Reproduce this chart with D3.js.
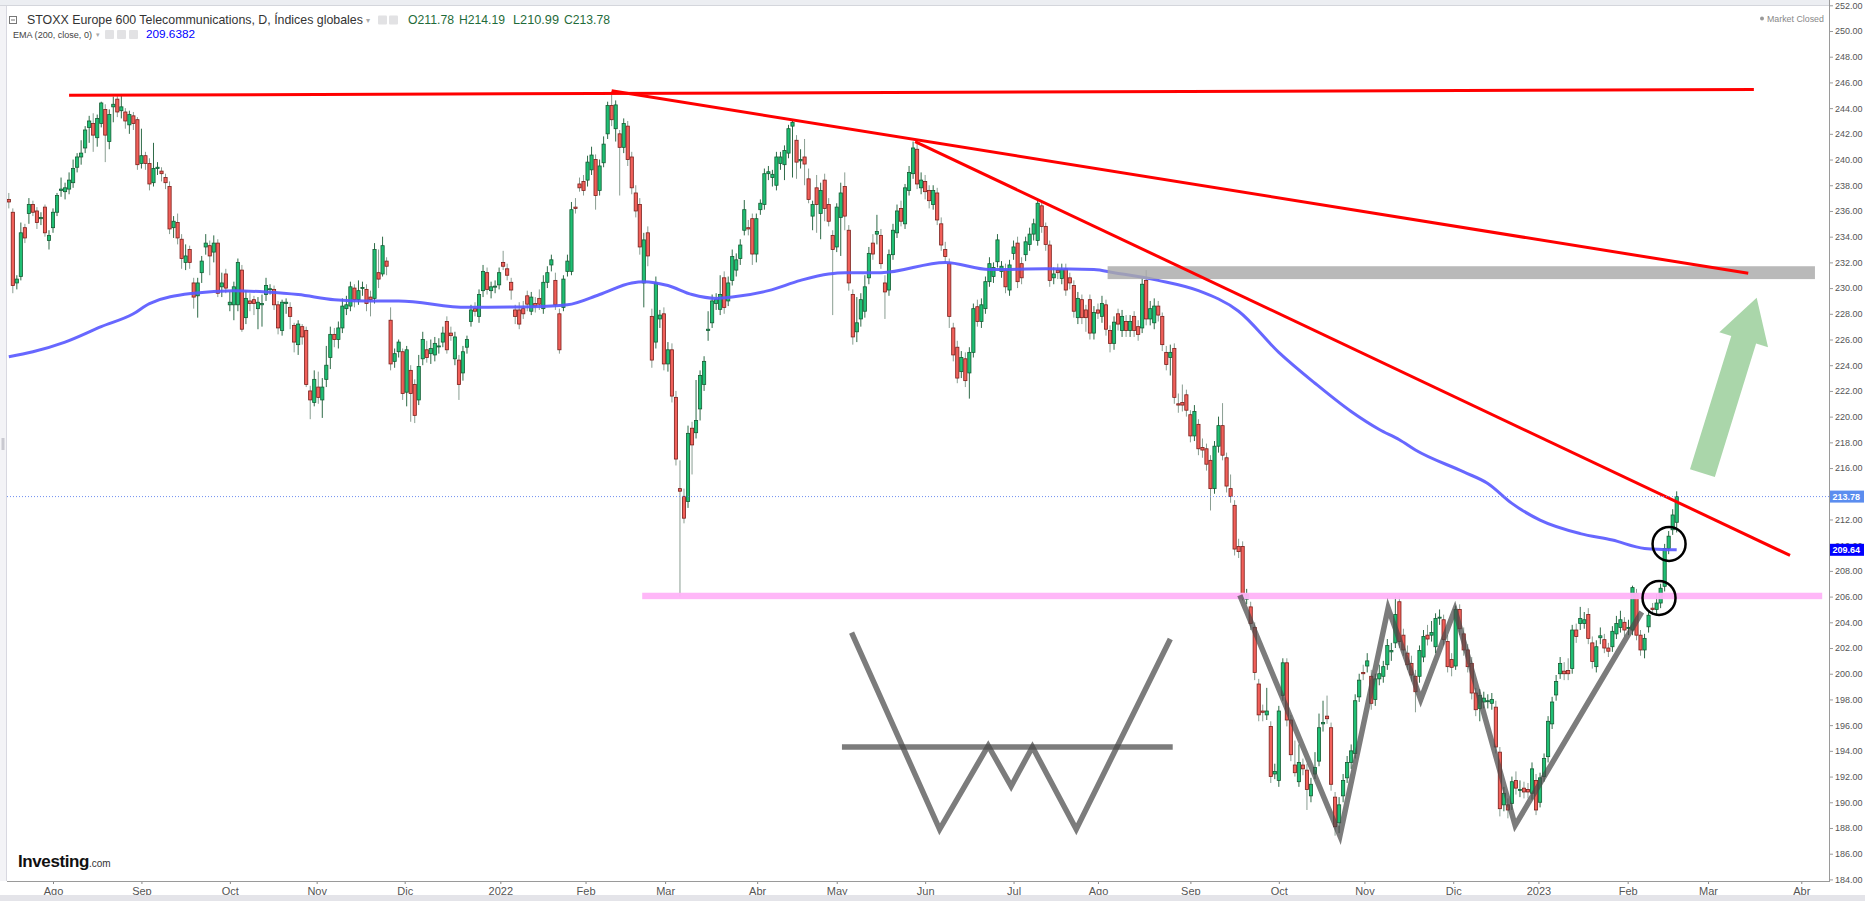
<!DOCTYPE html>
<html><head><meta charset="utf-8">
<script src="https://cdn.jsdelivr.net/npm/d3@7"></script>
<style>
html,body{margin:0;padding:0;background:#fff;overflow:hidden}
svg{display:block}
</style></head><body>
<svg id="chart" width="1865" height="901"></svg>
<script>
// ---------------- DATA ----------------
const opens = [
236.9,235.9,230.4,230.9,234.7,235.8,236.5,236.0,235.4,236.3,
233.7,234.7,235.9,237.6,237.5,237.7,238.2,239.4,240.2,240.9,
242.5,242.8,241.7,242.8,243.9,241.4,244.1,244.7,243.8,243.7,
242.7,243.4,243.1,239.7,240.3,239.7,238.2,239.3,239.1,238.6,
237.9,234.7,235.1,233.8,232.0,233.0,230.4,229.4,231.2,233.2,
233.3,232.8,233.5,230.1,231.1,228.7,228.7,228.7,231.4,227.7,
229.0,229.1,228.4,228.7,229.5,229.9,229.9,228.7,226.7,228.8,
228.5,227.1,225.6,227.0,226.7,222.0,221.1,222.3,221.3,222.9,
224.6,226.4,226.0,226.9,228.4,228.6,230.0,229.1,230.0,229.9,
229.3,229.2,231.2,231.1,232.1,227.5,224.3,225.05,225.05,221.9,
223.6,222.5,221.3,224.5,225.2,224.9,224.8,225.45,225.8,227.4,
226.5,224.5,224.4,223.4,225.4,227.4,228.4,227.8,229.8,231.2,
229.8,230.1,230.25,232.0,231.5,230.45,228.3,228.3,228.4,229.4,
228.2,228.8,229.2,228.4,230.45,231.8,230.6,228.0,228.5,231.3,
231.3,236.3,238.1,238.3,238.4,239.2,240.0,237.6,239.75,242.0,
244.2,242.4,242.0,240.95,242.6,240.2,237.4,236.5,230.4,234.3,
227.8,225.8,227.6,228.0,224.1,225.2,221.5,214.4,213.8,213.4,
219.1,218.75,220.6,222.5,226.7,227.3,228.8,228.35,230.8,229.0,
230.6,231.4,232.3,234.5,234.7,235.4,232.65,236.1,236.5,238.9,
238.6,238.0,239.7,239.6,240.5,242.6,241.5,239.9,240.2,238.5,
235.6,237.8,235.8,238.4,236.5,234.1,233.2,235.5,237.9,234.5,
229.5,226.6,227.6,228.2,230.8,233.5,234.2,234.1,230.4,229.85,
232.6,234.3,236.2,235.0,237.6,238.9,240.8,237.8,238.3,237.6,
236.5,237.4,235.0,233.0,231.9,226.9,225.4,223.5,224.5,223.4,
225.0,228.55,227.4,228.4,230.5,230.9,232.05,231.3,231.4,229.85,
232.7,233.5,231.9,232.6,233.4,234.2,233.7,236.4,234.8,233.35,
230.8,231.4,230.75,231.5,230.8,230.2,227.7,229.1,228.3,229.1,
226.5,228.3,227.8,228.7,226.7,225.7,228.0,226.7,227.4,226.7,
227.8,227.0,226.9,230.6,227.6,227.3,228.6,227.8,225.0,224.6,
225.3,221.0,221.1,221.7,220.15,218.5,219.4,217.6,217.5,216.6,
214.4,217.7,219.3,216.8,214.4,213.1,209.9,209.9,205.8,205.2,
203.6,199.2,197.1,196.8,195.9,192.2,191.7,198.3,200.85,196.4,
192.9,191.6,192.9,192.5,190.5,192.2,193.2,196.1,196.7,195.8,
190.4,188.4,190.5,191.9,193.1,193.8,198.2,200.1,200.6,199.8,
198.0,199.6,199.8,200.7,201.7,202.4,205.6,203.0,201.6,200.8,
199.8,199.8,201.3,203.0,203.0,202.1,204.35,204.2,202.5,201.1,
200.6,205.0,203.1,201.85,200.8,198.5,197.3,197.8,197.85,197.7,
197.4,193.9,189.8,189.8,189.9,191.7,190.95,191.1,191.0,190.7,
191.7,190.0,192.0,193.55,196.1,198.35,200.0,200.2,200.25,200.4,
203.4,203.9,203.9,204.6,202.4,200.55,202.8,202.65,202.0,202.1,
203.1,203.6,204.0,203.55,203.4,206.25,203.0,201.85,203.65,205.1,
205.0,205.5,206.8,209.75,211.2,211.78];
const highs = [
237.4,236.2,231.0,235.1,235.0,237.0,236.8,236.3,235.9,236.5,
234.5,236.2,237.4,238.6,238.2,239.0,240.0,240.5,241.5,242.6,
243.4,243.6,243.5,244.5,244.3,243.9,244.9,245.0,245.1,244.0,
243.8,243.7,243.3,242.4,240.6,240.1,241.3,239.8,239.4,238.9,
238.3,235.6,235.8,234.2,233.4,233.3,230.8,230.8,232.5,234.2,
233.7,234.1,233.8,231.2,231.5,229.7,230.5,232.3,231.8,229.8,
229.6,229.4,229.3,229.5,230.8,230.3,230.2,229.0,229.1,229.2,
228.9,227.3,227.5,227.2,227.0,222.4,223.6,223.5,223.0,225.5,
227.0,226.9,227.4,229.2,229.4,230.5,230.3,230.6,230.5,230.3,
229.8,233.5,233.0,234.0,232.4,228.5,225.3,226.0,225.3,225.5,
224.0,222.9,224.8,226.6,225.9,226.0,226.2,226.1,227.0,227.8,
227.0,226.6,224.8,225.5,226.3,228.7,228.9,229.9,231.8,231.6,
230.5,230.6,231.6,232.9,231.9,230.8,228.7,228.9,229.0,229.8,
229.7,229.3,229.9,231.0,231.7,232.6,231.2,228.4,231.0,232.6,
236.7,237.0,238.6,238.8,240.3,241.0,240.4,240.0,241.8,244.5,
245.3,244.6,242.3,243.2,243.0,240.6,238.0,237.0,234.3,234.8,
228.4,230.9,228.3,228.5,225.8,225.7,222.0,216.6,214.4,219.3,
219.6,222.85,223.6,224.7,228.2,229.5,229.6,231.0,231.3,230.9,
233.0,232.7,233.8,236.85,235.3,235.8,235.8,236.9,239.3,239.5,
239.2,240.6,240.6,241.1,242.7,243.0,241.9,240.8,241.6,239.3,
236.8,238.8,238.2,238.9,237.0,234.5,236.6,238.2,239.0,234.9,
229.9,229.3,229.6,231.0,233.2,234.2,235.7,234.6,231.0,233.0,
235.0,236.5,236.8,238.1,239.5,241.4,241.3,239.0,238.8,238.0,
238.0,237.8,235.5,233.6,232.3,227.3,225.9,225.1,225.0,225.4,
228.8,229.1,229.2,230.9,232.4,232.0,234.2,232.1,231.9,232.2,
233.7,234.0,232.4,234.0,234.7,235.4,236.9,236.7,235.1,233.7,
231.6,231.9,231.9,231.9,231.2,230.6,229.7,229.5,228.7,229.5,
228.6,228.8,229.4,229.1,227.1,227.8,228.4,228.3,227.9,227.9,
228.2,227.5,230.8,231.4,229.0,229.2,229.0,228.1,225.5,225.6,
225.7,221.8,222.5,222.1,220.5,220.9,219.8,218.3,217.9,217.0,
218.1,220.0,221.05,217.2,215.5,213.5,210.5,210.3,206.6,205.6,
204.0,199.6,197.6,198.9,196.3,193.0,197.5,201.2,201.2,196.8,
194.8,194.5,193.4,193.0,191.9,193.9,196.9,197.9,198.3,196.2,
190.8,190.4,192.2,193.6,194.5,198.4,200.0,200.7,201.6,200.3,
200.0,200.7,201.0,202.7,202.4,205.95,206.0,203.5,202.2,201.4,
200.3,202.2,203.4,203.8,204.1,204.7,205.0,204.6,203.0,201.6,
205.3,205.4,203.6,202.3,201.3,198.9,198.8,198.6,198.4,198.5,
197.9,194.3,191.2,190.3,192.0,192.4,191.7,191.6,191.5,193.1,
192.2,192.3,193.8,196.7,198.2,199.9,201.3,200.9,201.2,203.8,
203.9,205.2,204.8,205.1,202.9,202.6,203.6,203.1,202.4,203.7,
204.5,204.9,204.4,204.2,206.85,206.6,203.4,203.1,204.9,205.5,
206.2,207.0,210.1,211.1,212.8,214.19];
const lows = [
236.2,229.6,229.9,230.6,233.5,235.0,235.6,234.6,234.9,234.0,
233.0,234.3,235.6,237.1,236.9,237.3,237.8,239.0,239.6,240.5,
241.3,240.6,241.0,242.5,239.8,240.8,242.9,243.3,243.2,242.4,
242.0,242.3,239.2,239.3,239.2,237.6,237.9,238.8,238.3,237.7,
234.2,233.9,233.4,231.5,231.4,231.5,228.4,227.7,230.4,232.6,
231.0,232.0,229.3,229.3,229.6,228.2,227.5,228.2,226.6,227.2,
228.2,227.9,226.8,227.0,229.0,229.5,228.3,226.4,226.3,228.0,
226.8,225.0,224.8,225.6,222.3,219.8,220.8,221.0,219.9,222.3,
223.7,225.4,225.3,226.5,227.9,228.2,228.5,228.7,229.4,228.2,
227.8,228.8,230.0,230.9,231.0,223.6,223.8,224.6,221.3,220.8,
219.6,219.5,220.9,224.0,224.2,224.1,224.3,224.9,225.4,224.9,
225.9,224.0,221.3,222.8,224.9,227.0,227.8,227.3,229.3,229.5,
229.2,229.6,229.9,231.4,230.6,229.1,227.2,226.8,227.6,228.2,
227.9,228.1,228.3,228.0,230.0,231.3,228.3,224.9,228.2,230.9,
231.0,235.8,237.5,237.2,237.9,238.8,236.1,237.2,239.4,241.6,
242.6,241.4,237.2,240.5,239.5,237.3,235.5,232.6,228.5,231.7,
223.8,225.3,226.9,223.6,223.5,221.1,216.2,206.0,211.7,212.9,
215.5,218.3,219.7,222.0,225.9,226.9,228.3,227.9,228.0,228.6,
230.2,230.9,231.8,234.1,234.1,231.8,232.0,235.7,236.1,238.4,
237.9,237.6,239.2,238.4,240.1,238.6,238.5,239.3,238.0,236.6,
234.5,234.3,233.8,235.2,234.8,227.9,232.8,232.5,234.5,229.8,
225.6,225.8,227.0,227.7,230.3,232.2,233.4,231.5,227.6,229.4,
232.2,233.9,234.8,234.6,237.2,238.5,237.7,237.3,236.9,236.2,
236.1,234.9,232.9,232.0,226.9,224.3,222.6,223.0,222.3,221.4,
224.6,227.0,226.9,228.0,230.1,230.4,231.6,230.8,229.6,229.4,
232.2,230.0,230.3,232.1,232.9,233.7,233.3,234.3,232.9,230.1,
230.3,230.7,230.3,229.4,229.9,227.7,227.2,227.2,226.6,226.0,
226.0,227.6,227.3,226.3,225.0,225.2,226.7,226.2,226.2,226.2,
226.2,225.9,226.5,227.1,227.1,226.8,227.4,225.1,223.6,223.2,
221.0,220.3,220.4,220.0,218.0,218.1,217.0,216.8,215.8,212.7,
214.0,217.2,216.6,214.1,213.3,209.2,209.0,205.7,205.4,203.4,
199.5,196.3,196.3,196.4,191.5,191.8,191.2,197.9,195.9,193.2,
192.0,191.2,192.1,189.4,190.0,191.8,192.8,195.5,196.1,190.9,
187.4,187.6,190.0,191.5,192.6,193.4,197.8,199.5,200.1,197.2,
197.5,199.1,199.3,200.3,201.0,202.0,202.0,201.4,200.3,199.4,
197.0,199.3,200.9,202.2,202.5,201.6,203.8,202.2,200.1,199.8,
200.3,203.0,201.4,200.1,198.0,196.7,196.3,197.3,197.3,197.2,
193.8,188.9,189.3,188.75,189.4,190.6,190.4,190.3,190.3,190.2,
189.0,189.6,191.6,193.1,195.7,197.9,199.6,199.5,199.5,200.0,
202.4,203.4,203.5,202.3,200.4,200.1,202.3,201.6,201.3,201.7,
202.7,203.2,202.9,203.0,203.0,202.6,201.4,201.2,203.2,204.6,
204.5,205.1,206.4,209.3,210.8,210.99];
const closes = [
236.7,230.2,230.7,234.3,233.9,236.5,235.9,235.1,235.5,234.3,
234.1,235.9,237.2,237.7,237.8,238.4,239.3,240.2,240.5,242.3,
243.0,241.9,243.2,244.4,241.9,243.5,244.3,243.7,244.1,243.0,
243.5,242.8,239.6,240.3,239.7,238.1,239.3,239.4,238.9,238.2,
234.6,235.2,233.9,232.3,232.5,232.0,229.3,230.4,232.1,233.5,
232.5,233.5,229.6,230.4,230.0,228.9,230.1,232.0,226.8,229.2,
228.8,228.8,228.9,228.8,230.2,229.95,228.7,226.9,228.9,228.9,
227.8,225.8,227.2,226.2,222.5,221.3,222.9,221.5,222.3,224.0,
226.4,226.0,226.9,228.6,228.7,230.1,229.1,229.8,230.05,228.8,
229.1,233.0,230.7,233.3,231.7,224.1,224.9,225.8,221.8,225.2,
221.8,220.1,223.9,226.0,224.6,225.3,225.7,225.5,226.5,225.2,
226.3,226.2,222.5,225.05,226.0,228.3,228.2,229.5,231.3,229.9,
230.1,230.15,231.2,231.7,231.0,229.85,227.8,227.2,228.0,228.75,
229.3,228.6,228.75,230.45,231.2,232.2,228.7,225.2,230.7,232.1,
236.1,236.2,237.8,237.6,239.8,240.35,237.2,239.5,241.2,244.2,
243.1,244.25,240.95,242.8,240.0,237.8,236.0,233.2,233.75,232.5,
224.4,230.4,227.9,224.1,225.2,221.6,216.7,214.2,212.1,218.7,
217.8,219.7,223.2,224.3,226.8,229.0,229.1,229.5,228.5,230.4,
232.45,232.2,233.35,236.1,234.6,232.65,235.4,236.6,238.9,239.05,
238.85,240.2,240.2,240.7,242.4,242.9,239.8,240.0,239.65,236.9,
236.5,236.5,237.6,236.2,235.2,233.0,236.3,237.4,235.6,230.4,
226.2,227.3,229.1,230.1,232.7,232.65,234.4,231.9,229.7,232.6,
234.5,236.0,235.2,237.8,239.0,240.9,238.1,238.4,237.5,236.8,
237.6,235.3,233.35,232.45,227.8,224.8,223.0,224.6,222.8,225.0,
228.4,227.4,228.7,230.5,231.9,231.6,233.75,231.7,230.1,231.8,
233.2,230.5,230.8,233.6,234.2,235.0,236.6,234.8,233.4,230.6,
231.1,231.2,231.45,229.85,230.4,228.2,229.2,227.7,227.7,226.5,
228.1,228.05,228.8,226.8,225.7,227.35,227.2,227.8,226.7,227.4,
226.7,226.4,230.3,227.6,228.4,228.6,227.9,225.6,224.05,225.0,
221.5,220.9,220.9,220.5,218.5,220.4,217.5,217.4,216.3,214.4,
217.7,219.3,217.0,214.6,213.8,209.7,209.5,206.1,206.2,203.9,
200.1,196.8,197.0,197.1,192.0,192.4,197.1,200.85,196.4,193.7,
192.3,193.1,192.6,191.0,191.4,192.7,195.8,196.2,196.5,191.4,
188.1,189.8,191.7,193.1,194.0,197.9,199.5,200.0,201.0,197.7,
199.6,200.0,200.55,202.2,201.8,204.6,202.5,201.85,200.7,199.9,
198.6,201.8,202.9,202.7,203.2,204.3,204.4,202.65,200.55,200.5,
205.0,203.5,201.85,200.55,198.5,197.2,198.3,198.1,197.9,198.0,
194.3,189.5,190.7,189.4,191.6,191.1,191.0,190.8,190.8,192.6,
189.4,191.9,193.4,196.3,197.8,199.4,200.8,200.0,200.0,203.4,
202.9,204.3,204.2,202.75,200.95,202.1,202.95,202.0,201.75,203.3,
203.9,204.2,203.4,203.6,206.7,203.0,201.85,202.75,204.55,205.0,
205.5,206.65,209.75,210.7,212.35,213.78];

// EMA(200) at sample bars
const emaIdx = [0,6,14,23,31,35,46,56,64,72,81,89,97,114,130,139,147,155,158,164,170,176,180,189,197,204,208,217,233,244,258,270,275,286,296,306,316,325,334,341,346,350,362,368,374,381,391,399,407,415];
const emaVal = [224.66,225.05,225.8,227.0,228.0,228.8,229.6,229.8,229.7,229.5,229.1,229.0,229.0,228.5,228.55,228.7,229.5,230.4,230.5,230.2,229.5,229.2,229.3,229.8,230.6,231.1,231.2,231.2,232.0,231.45,231.5,231.45,231.2,230.6,229.8,228.2,225.0,222.6,220.4,219.0,218.2,217.4,215.7,214.8,213.25,211.95,210.9,210.4,209.75,209.64];

// month labels of the time axis and the bar position of each
const monthLabels = ["Ago","Sep","Oct","Nov","Dic","2022","Feb","Mar","Abr","May","Jun","Jul","Ago","Sep","Oct","Nov","Dic","2023","Feb","Mar","Abr"];
const monthIdx = [11,33,55,76.6,98.5,122.3,143.5,163.3,186.2,206,228,250,271,294,316,337.3,359.4,380.6,402.8,422.8,446];
const priceTicks = d3.range(184, 253, 2);

const headerTitle = "STOXX Europe 600 Telecommunications, D, Índices globales";
const headerOHLC = ["O211.78","H214.19","L210.99","C213.78"];
const emaLabel = "EMA (200, close, 0)";
const emaLast = "209.6382";
const lastClose = 213.78;
const lastEma = 209.64;

// hand drawn annotations (bar index, price)
const resistanceLine = [[15,245.0],[434.2,245.45]];
const trendUpper = [[150,245.35],[432.8,231.15]];
const trendLower = [[225.5,241.4],[443.2,209.2]];
const greyBandIdx = [273.4,449.4], greyBandPrice = [230.7,231.7];
const pinkBandIdx = [157.6,451.2], pinkBandPrice = [205.8,206.3];
const arrowTail = [421.4,215.6], arrowTip = [434.9,229.25];
const circleCenters = [[413.1,210.1],[410.6,205.9]];
const wPattern = [[306.3,206.1],[331.2,187.4],[343.2,205.1],[351.3,198.0],[359.8,205.0],[374.8,188.2],[406.3,204.8]];
const wSketch = [[209.7,203.2],[231.6,187.9],[243.7,194.4],[249.4,191.25],[254.7,194.3],[265.6,187.9],[289.0,202.7]];
const wNeck = [[207.3,194.3],[289.6,194.3]];

// ---------------- DRAWING ----------------
const W = 1865, H = 901;
const plotL = 7, plotR = 1829, plotT = 6, plotB = 881;
const FONT = "'Liberation Sans', Arial, sans-serif";
const NARROW = "'Liberation Sans Narrow', 'Liberation Sans', Arial, sans-serif";

const x = d3.scaleLinear().domain([0, 415]).range([8.8, 1676.7]);
const y = d3.scaleLinear().domain([184, 250]).range([879.4, 31]);

const svg = d3.select('#chart');
svg.append('rect').attr('width', W).attr('height', H).attr('fill', '#fff');
svg.append('defs').append('clipPath').attr('id', 'plotClip')
  .append('rect').attr('x', plotL).attr('y', plotT).attr('width', plotR - plotL).attr('height', plotB - plotT);

const plot = svg.append('g').attr('clip-path', 'url(#plotClip)');
const idx = d3.range(closes.length);
const up = i => closes[i] >= opens[i];

// candles
plot.append('g').selectAll('line').data(idx).join('line')
  .attr('x1', i => x(i)).attr('x2', i => x(i))
  .attr('y1', i => y(highs[i])).attr('y2', i => y(lows[i]))
  .attr('stroke', i => up(i) ? '#2f6b48' : '#8a9e92').attr('stroke-width', 1);
plot.append('g').selectAll('rect').data(idx).join('rect')
  .attr('x', i => x(i) - 1.6).attr('width', 3.2)
  .attr('y', i => y(Math.max(opens[i], closes[i])))
  .attr('height', i => Math.max(1, y(Math.min(opens[i], closes[i])) - y(Math.max(opens[i], closes[i]))))
  .attr('fill', i => up(i) ? '#1fbf74' : '#f1605a')
  .attr('stroke', i => up(i) ? '#145c33' : '#7a1e1a').attr('stroke-width', 0.8);

// EMA 200
const line = d3.line().x(d => x(d[0])).y(d => y(d[1]));
plot.append('path').datum(d3.zip(emaIdx, emaVal))
  .attr('d', line.curve(d3.curveMonotoneX)).attr('fill', 'none')
  .attr('stroke', '#5a5aff').attr('stroke-width', 3).attr('stroke-opacity', 0.92);
line.curve(d3.curveLinear);

// bands
plot.append('rect').attr('x', x(pinkBandIdx[0])).attr('width', x(pinkBandIdx[1]) - x(pinkBandIdx[0]))
  .attr('y', y(pinkBandPrice[1])).attr('height', y(pinkBandPrice[0]) - y(pinkBandPrice[1]))
  .attr('fill', '#ffb3f8').attr('fill-opacity', 0.95);
plot.append('rect').attr('x', x(greyBandIdx[0])).attr('width', x(greyBandIdx[1]) - x(greyBandIdx[0]))
  .attr('y', y(greyBandPrice[1])).attr('height', y(greyBandPrice[0]) - y(greyBandPrice[1]))
  .attr('fill', '#a9a9a9').attr('fill-opacity', 0.82);

// W lines
const wStyle = p => p.attr('fill', 'none').attr('stroke', '#4a4a4a').attr('stroke-opacity', 0.72)
  .attr('stroke-width', 5.5).attr('stroke-linejoin', 'miter').attr('stroke-miterlimit', 10);
wStyle(plot.append('path').datum(wPattern).attr('d', line));
wStyle(plot.append('path').datum(wSketch).attr('d', line));
wStyle(plot.append('path').datum(wNeck).attr('d', line));

// red trend lines
[resistanceLine, trendUpper, trendLower].forEach(l => {
  plot.append('path').datum(l).attr('d', line).attr('fill', 'none')
    .attr('stroke', '#ff0000').attr('stroke-width', 3).attr('stroke-linecap', 'butt');
});

// green arrow
(function () {
  const p0 = [x(arrowTail[0]), y(arrowTail[1])], p1 = [x(arrowTip[0]), y(arrowTip[1])];
  const dx = p1[0] - p0[0], dy = p1[1] - p0[1], L = Math.hypot(dx, dy);
  const u = [dx / L, dy / L], n = [-u[1], u[0]];
  const sh = 13, hh = 25.5, hl = 44;
  const b = [p1[0] - u[0] * hl, p1[1] - u[1] * hl];
  const pt = (p, k) => [p[0] + n[0] * k, p[1] + n[1] * k];
  const pts = [pt(p0, sh), pt(b, sh), pt(b, hh), p1, pt(b, -hh), pt(b, -sh), pt(p0, -sh)];
  plot.append('polygon').attr('points', pts.map(p => p.join(',')).join(' '))
    .attr('fill', '#7cc07c').attr('fill-opacity', 0.65);
})();

// circles
plot.selectAll('ellipse.c').data(circleCenters).join('ellipse')
  .attr('cx', d => x(d[0])).attr('cy', d => y(d[1])).attr('rx', 16.5).attr('ry', 17)
  .attr('fill', 'none').attr('stroke', '#000').attr('stroke-width', 2.5);

// last price dotted line
plot.append('line').attr('x1', plotL).attr('x2', plotR).attr('y1', y(lastClose)).attr('y2', y(lastClose))
  .attr('stroke', '#6f8ff0').attr('stroke-width', 1).attr('stroke-dasharray', '1,2');

// ---------------- AXES ----------------
// right price axis
const yAxis = d3.axisRight(y).tickValues(priceTicks).tickFormat(d3.format('.2f')).tickSize(4).tickPadding(2);
const ya = svg.append('g').attr('transform', `translate(${plotR},0)`).call(yAxis);
ya.select('.domain').remove();
ya.selectAll('line').attr('stroke', '#9a9a9a');
ya.selectAll('text').attr('font-family', FONT).attr('font-size', 9).attr('fill', '#555');

// bottom time axis
const xAxis = d3.axisBottom(x).tickValues(monthIdx).tickFormat((d, i) => monthLabels[i]).tickSize(3).tickPadding(3);
const xa = svg.append('g').attr('transform', `translate(0,${plotB})`).call(xAxis);
xa.select('.domain').remove();
xa.selectAll('line').attr('stroke', '#888');
xa.selectAll('text').attr('font-family', NARROW).attr('font-size', 11).attr('fill', '#555');

// frame lines
svg.append('line').attr('x1', plotR + 0.5).attr('x2', plotR + 0.5).attr('y1', 0).attr('y2', plotB + 1).attr('stroke', '#9a9a9a');
svg.append('line').attr('x1', plotL).attr('x2', plotR + 1).attr('y1', plotB + 0.5).attr('y2', plotB + 0.5).attr('stroke', '#9a9a9a');

// price label boxes
function priceBox(v, fill) {
  const g = svg.append('g');
  g.append('rect').attr('x', plotR + 1).attr('y', y(v) - 6).attr('width', W - plotR - 2).attr('height', 12).attr('fill', fill);
  g.append('text').attr('x', plotR + 3.5).attr('y', y(v) + 3.3).text(v.toFixed(2))
    .attr('font-family', FONT).attr('font-size', 9).attr('font-weight', 'bold').attr('fill', '#fff');
}
priceBox(lastClose, '#5b8def');
priceBox(lastEma, '#0000ff');

// top strip, left strip, bottom strip
svg.append('rect').attr('x', 0).attr('y', 0).attr('width', plotR).attr('height', 5).attr('fill', '#eceef2');
svg.append('line').attr('x1', 0).attr('x2', plotR).attr('y1', 5.5).attr('y2', 5.5).attr('stroke', '#d4d6dc');
svg.append('rect').attr('x', 0).attr('y', 6).attr('width', 6.5).attr('height', plotB - 6).attr('fill', '#f3f3f6');
svg.append('line').attr('x1', 6.5).attr('x2', 6.5).attr('y1', 6).attr('y2', plotB).attr('stroke', '#d8d8e0');
svg.append('rect').attr('x', 1.5).attr('y', 438).attr('width', 3).attr('height', 12).attr('fill', '#c9c9d0');
svg.append('rect').attr('x', 0).attr('y', 895).attr('width', W).attr('height', 6).attr('fill', '#e4e4e9');

// ---------------- TEXTS ----------------
function fit(sel, target) {
  const w = sel.node().getComputedTextLength();
  if (w > 0) sel.attr('font-size', (parseFloat(sel.attr('font-size')) * target / w).toFixed(2));
  return sel;
}
// header icon
svg.append('rect').attr('x', 9.5).attr('y', 16.5).attr('width', 7).attr('height', 7).attr('fill', 'none').attr('stroke', '#777');
svg.append('line').attr('x1', 11).attr('x2', 15).attr('y1', 20).attr('y2', 20).attr('stroke', '#777');
fit(svg.append('text').attr('x', 27).attr('y', 24.3).text(headerTitle)
  .attr('font-family', FONT).attr('font-size', 12).attr('fill', '#333'), 336);
svg.append('text').attr('x', 366).attr('y', 23).text('▾').attr('font-family', FONT).attr('font-size', 8).attr('fill', '#aaa');
[378, 389].forEach(px => svg.append('rect').attr('x', px).attr('y', 15.5).attr('width', 9).attr('height', 9).attr('rx', 1).attr('fill', '#e2e2e4'));
const ohlcX = [408, 459, 513, 564];
headerOHLC.forEach((t, i) => fit(svg.append('text').attr('x', ohlcX[i]).attr('y', 24.3).text(t)
  .attr('font-family', FONT).attr('font-size', 12).attr('fill', '#1f6b3a'), 46));
fit(svg.append('text').attr('x', 13).attr('y', 37.6).text(emaLabel)
  .attr('font-family', FONT).attr('font-size', 9).attr('fill', '#444'), 79);
svg.append('text').attr('x', 96).attr('y', 37).text('▾').attr('font-family', FONT).attr('font-size', 7).attr('fill', '#aaa');
[105, 117, 129].forEach(px => svg.append('rect').attr('x', px).attr('y', 30).attr('width', 9).attr('height', 9).attr('rx', 1).attr('fill', '#e2e2e4'));
fit(svg.append('text').attr('x', 146).attr('y', 37.6).text(emaLast)
  .attr('font-family', FONT).attr('font-size', 9).attr('fill', '#0000ff'), 49);

// market closed
svg.append('circle').attr('cx', 1762).attr('cy', 18.5).attr('r', 2).attr('fill', '#999');
fit(svg.append('text').attr('x', 1767).attr('y', 21.5).text('Market Closed')
  .attr('font-family', FONT).attr('font-size', 9).attr('fill', '#888'), 57);

// Investing.com logo
const logo = svg.append('text').attr('x', 18).attr('y', 867).attr('font-family', NARROW).attr('fill', '#111');
const logoMain = logo.append('tspan').text('Investing').attr('font-weight', 'bold').attr('font-size', 17).attr('letter-spacing', -0.4);
logo.append('tspan').text('.com').attr('font-size', 10).attr('fill', '#333');
(function () {
  const w = logoMain.node().getComputedTextLength();
  if (w > 0) logoMain.attr('font-size', (17 * 71 / w).toFixed(2));
})();
</script>
</body></html>
